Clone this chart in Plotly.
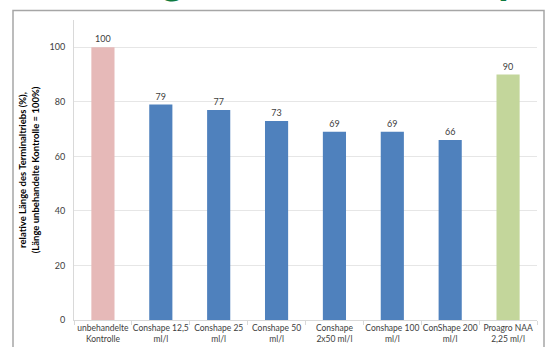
import plotly.graph_objects as go

categories = ["unbehandelte<br>Kontrolle", "Conshape 12,5<br>ml/l", "Conshape 25<br>ml/l",
              "Conshape 50<br>ml/l", "Conshape<br>2x50 ml/l", "Conshape 100<br>ml/l",
              "ConShape 200<br>ml/l", "Proagro NAA<br>2,25 ml/l"]
values = [100, 79, 77, 73, 69, 69, 66, 90]
colors = ["#E6B9B8", "#4F81BD", "#4F81BD", "#4F81BD", "#4F81BD", "#4F81BD", "#4F81BD", "#C3D69B"]
y_ticks = [0, 20, 40, 60, 80, 100]
y_title = "relative Länge des Terminaltriebs (%),<br>(Länge unbehandelte Kontrolle = 100%)"

FONT = "Lato"
W, H = 547, 347
L, R, T, B = 74, 10, 20, 27
pw, ph = W - L - R, H - T - B

def px_x(x):
    return (x - L) / pw

def px_y(y):
    return (H - B - y) / ph

fig = go.Figure(go.Bar(
    x=categories, y=values,
    marker=dict(color=colors, line=dict(width=0)),
    text=[str(v) for v in values], textposition="outside",
    textfont=dict(family=FONT, size=9, color="#404040"),
    cliponaxis=False,
))

fig.update_layout(
    width=W, height=H,
    margin=dict(l=L, r=R, t=T, b=B, autoexpand=False),
    paper_bgcolor="white", plot_bgcolor="white",
    bargap=0.6, showlegend=False,
    font=dict(family=FONT, color="#404040"),
    xaxis=dict(
        showline=True, linecolor="#D9D9D9", linewidth=1,
        ticks="outside", tickson="boundaries", ticklen=4, tickcolor="#D9D9D9",
        tickfont=dict(family=FONT, size=8.5, color="#404040"),
        tickangle=0, automargin=False,
        showgrid=False, fixedrange=True,
    ),
    yaxis=dict(
        range=[0, 110], tickvals=y_ticks, automargin=False,
        showgrid=True, gridcolor="#E6E6E6", gridwidth=1,
        showline=True, linecolor="#D9D9D9", linewidth=1,
        zeroline=False,
        tickfont=dict(family=FONT, size=9, color="#404040"),
        ticklabelstandoff=6,
        title=dict(text="<b>" + y_title.replace("<br>", "</b><br><b>") + "</b>",
                   font=dict(family=FONT, size=9.5, color="#000000"), standoff=8),
    ),
    shapes=[dict(type="rect", xref="paper", yref="paper",
                 x0=px_x(13), x1=px_x(544), y0=px_y(360), y1=px_y(10.5),
                 line=dict(color="#A6A6A6", width=1.5), fillcolor="rgba(0,0,0,0)", layer="below")],
    annotations=[
        dict(text="<b>g</b>", xref="paper", yref="paper", x=px_x(172), y=px_y(5),
             xanchor="center", yanchor="bottom", showarrow=False,
             font=dict(family=FONT, size=44, color="#0E7A3E")),
        dict(text="<b>p</b>", xref="paper", yref="paper", x=px_x(510), y=px_y(5),
             xanchor="center", yanchor="bottom", showarrow=False,
             font=dict(family=FONT, size=44, color="#0E7A3E")),
    ],
)

fig.write_html("out.html")
